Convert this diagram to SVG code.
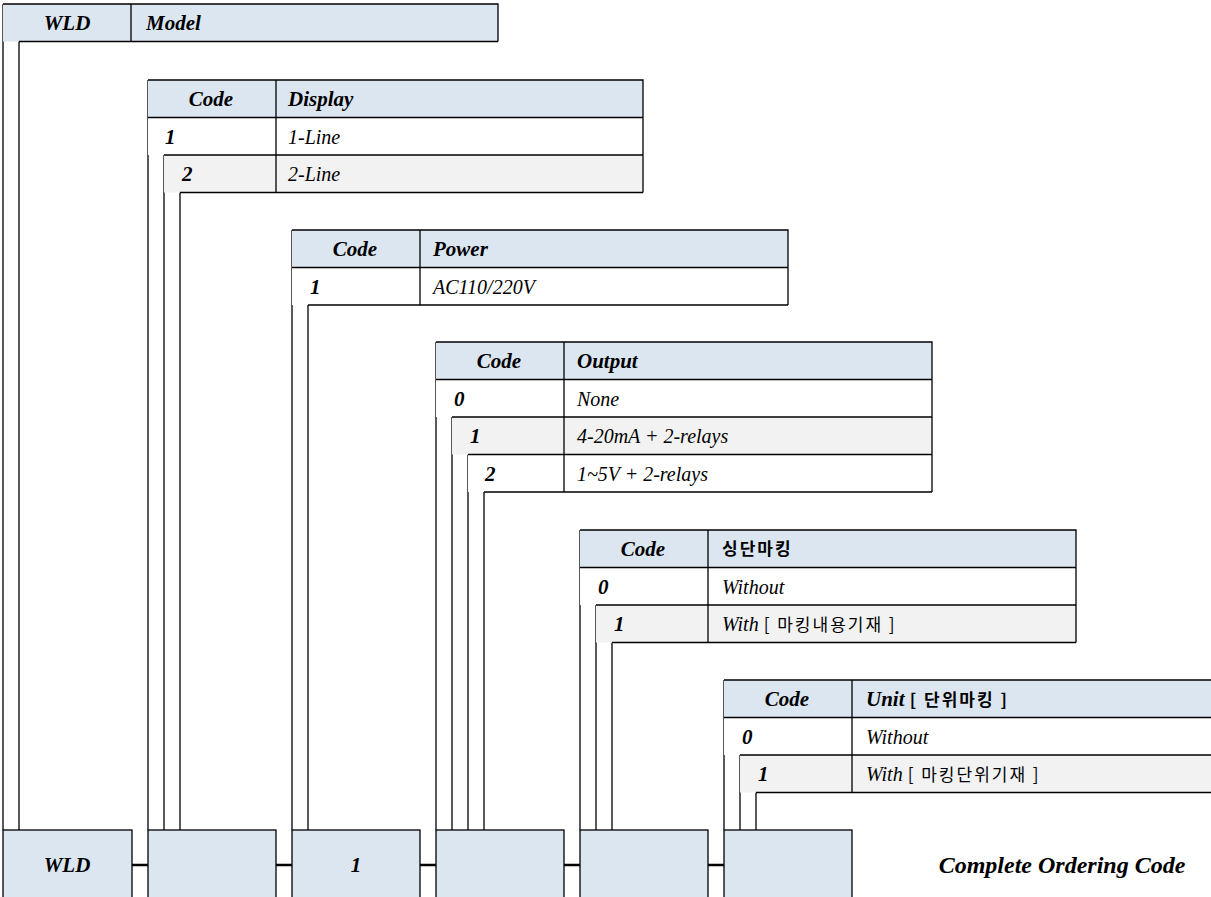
<svg xmlns="http://www.w3.org/2000/svg" width="1211" height="897" viewBox="0 0 1211 897">
<style>
.hdr{fill:#dce6f1}
.wht{fill:#ffffff}
.gry{fill:#f2f2f2}
.brd{fill:none;stroke:#000;stroke-width:1.3}
.vl{fill:none;stroke:#000;stroke-width:1.3}
.lnk{fill:none;stroke:#000;stroke-width:2.5}
.box{fill:#dce6f1;stroke:#000;stroke-width:1.3}
.hb{font-family:"Liberation Serif","Times New Roman",serif;font-weight:bold;font-style:italic;font-size:21px;fill:#000}
.hc{font-family:"Liberation Serif","Times New Roman",serif;font-weight:bold;font-style:italic;font-size:21px;fill:#000;text-anchor:middle}
.val{font-family:"Liberation Serif","Times New Roman",serif;font-style:italic;font-size:20px;fill:#000}
.kr{font-family:"Noto Sans CJK KR","Noto Sans",sans-serif;font-style:normal;font-weight:normal;font-size:17px;letter-spacing:2px}
.krb{font-family:"Noto Sans CJK KR","Noto Sans",sans-serif;font-style:normal;font-weight:bold;font-size:17px;letter-spacing:2px}
.big{font-family:"Liberation Serif","Times New Roman",serif;font-weight:bold;font-style:italic;font-size:24px;fill:#000;text-anchor:middle}
</style>

<g id="connectors">
  <path class="vl" d="M3,4V830 M19,41.5V830 M148,80V830 M164,155V830 M180,192.5V830 M292,230V830 M308,305V830 M436,342V830 M452,417V830 M468,454.5V830 M484,492V830 M580,530V830 M596,605V830 M612,642.5V830 M724,680V830 M740,755V830 M756,792.5V830"/>
  <path class="lnk" d="M132,865H148 M276,865H292 M420,865H436 M564,865H580 M708,865H724"/>
</g>

<g id="table-model">
  <rect class="hdr" x="3" y="4" width="495" height="37.5"/>
  <path class="brd" d="M3,4H498V41.5 M19,41.5H498 M131,4V41.5"/>
  <text class="hc" x="67" y="30">WLD</text>
  <text class="hb" x="146" y="30">Model</text>
</g>

<g id="table-display">
  <rect class="hdr" x="148" y="80" width="495" height="37.5"/>
  <rect class="wht" x="148" y="117.5" width="495" height="37.5"/>
  <rect class="gry" x="164" y="155" width="479" height="37.5"/>
  <path class="brd" d="M148,80H643V192.5 M148,117.5H643 M164,155H643 M180,192.5H643 M276,80V192.5"/>
  <text class="hc" x="211" y="106">Code</text>
  <text class="hb" x="288" y="106">Display</text>
  <text class="hb" x="165" y="143.5">1</text>
  <text class="val" x="288" y="143.5">1-Line</text>
  <text class="hb" x="182" y="181">2</text>
  <text class="val" x="288" y="181">2-Line</text>
</g>

<g id="table-power">
  <rect class="hdr" x="292" y="230" width="496" height="37.5"/>
  <rect class="wht" x="292" y="267.5" width="496" height="37.5"/>
  <path class="brd" d="M292,230H788V305 M292,267.5H788 M308,305H788 M420,230V305"/>
  <text class="hc" x="355" y="256">Code</text>
  <text class="hb" x="433" y="256">Power</text>
  <text class="hb" x="310" y="293.5">1</text>
  <text class="val" x="433" y="293.5">AC110/220V</text>
</g>

<g id="table-output">
  <rect class="hdr" x="436" y="342" width="496" height="37.5"/>
  <rect class="wht" x="436" y="379.5" width="496" height="37.5"/>
  <rect class="gry" x="452" y="417" width="480" height="37.5"/>
  <rect class="wht" x="468" y="454.5" width="464" height="37.5"/>
  <path class="brd" d="M436,342H932V492 M436,379.5H932 M452,417H932 M468,454.5H932 M484,492H932 M564,342V492"/>
  <text class="hc" x="499" y="368">Code</text>
  <text class="hb" x="577" y="368">Output</text>
  <text class="hb" x="454" y="405.5">0</text>
  <text class="val" x="577" y="405.5">None</text>
  <text class="hb" x="470" y="443">1</text>
  <text class="val" x="577" y="443">4-20mA + 2-relays</text>
  <text class="hb" x="485" y="480.5">2</text>
  <text class="val" x="577" y="480.5">1~5V + 2-relays</text>
</g>

<g id="table-marking">
  <rect class="hdr" x="580" y="530" width="496" height="37.5"/>
  <rect class="wht" x="580" y="567.5" width="496" height="37.5"/>
  <rect class="gry" x="596" y="605" width="480" height="37.5"/>
  <path class="brd" d="M580,530H1076V642.5 M580,567.5H1076 M596,605H1076 M612,642.5H1076 M708,530V642.5"/>
  <text class="hc" x="643" y="556">Code</text>
  <text class="val" x="722" y="555"><tspan class="krb">싱단마킹</tspan></text>
  <text class="hb" x="598" y="593.5">0</text>
  <text class="val" x="722" y="593.5">Without</text>
  <text class="hb" x="614" y="631">1</text>
  <text class="val" x="722" y="631">With <tspan class="kr">[ 마킹내용기재 ]</tspan></text>
</g>

<g id="table-unit">
  <rect class="hdr" x="724" y="680" width="492" height="37.5"/>
  <rect class="wht" x="724" y="717.5" width="492" height="37.5"/>
  <rect class="gry" x="740" y="755" width="476" height="37.5"/>
  <path class="brd" d="M724,680H1216 M724,717.5H1216 M740,755H1216 M756,792.5H1216 M852,680V792.5"/>
  <text class="hc" x="787" y="706">Code</text>
  <text class="hb" x="866" y="706">Unit <tspan class="krb">[ 단위마킹 ]</tspan></text>
  <text class="hb" x="742" y="743.5">0</text>
  <text class="val" x="866" y="743.5">Without</text>
  <text class="hb" x="758" y="781">1</text>
  <text class="val" x="866" y="781">With <tspan class="kr">[ 마킹단위기재 ]</tspan></text>
</g>

<g id="code-boxes">
  <rect class="box" x="3" y="830" width="129" height="72"/>
  <rect class="box" x="148" y="830" width="128" height="72"/>
  <rect class="box" x="292" y="830" width="128" height="72"/>
  <rect class="box" x="436" y="830" width="128" height="72"/>
  <rect class="box" x="580" y="830" width="128" height="72"/>
  <rect class="box" x="724" y="830" width="128" height="72"/>
  <text class="hc" x="67" y="872">WLD</text>
  <text class="hc" x="356" y="872">1</text>
</g>

<g id="caption">
  <text class="big" x="1062" y="873">Complete Ordering Code</text>
</g>
</svg>
